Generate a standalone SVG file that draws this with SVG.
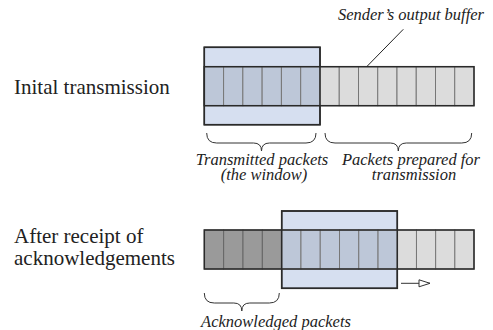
<svg xmlns="http://www.w3.org/2000/svg" width="493" height="330" viewBox="0 0 493 330">
<defs>
<style>
text{font-family:'Liberation Serif','Times New Roman','DejaVu Serif',serif}
.lbl{font-size:21px;fill:#222}
.it{font-size:16.5px;font-style:italic;fill:#222;text-anchor:middle}
.win{fill:#d6dff0;stroke:#2a2a2a;stroke-width:1.5}
.winc{fill:#bdc7d8;stroke:#777;stroke-width:1}
.pend{fill:#dcdcdc;stroke:#777;stroke-width:1}
.ack{fill:#9a9a9a;stroke:#666;stroke-width:1}
.strip{fill:none;stroke:#2a2a2a;stroke-width:1.5}
.br{fill:none;stroke:#333;stroke-width:1}
</style>
<marker id="arr" markerWidth="14" markerHeight="10" refX="12" refY="5" orient="auto" markerUnits="userSpaceOnUse">
<path d="M1,1.5 L12,5 L1,8.5 Z" fill="#fff" stroke="#333" stroke-width="1"/>
</marker>
</defs>

<g id="label-initial"><text class="lbl" x="14" y="94">Inital transmission</text></g>
<g id="label-after"><text class="lbl" x="14" y="243">After receipt of</text><text class="lbl" x="14" y="265">acknowledgements</text></g>

<g id="row1">
<rect class="win" x="204.3" y="47.3" width="115.7" height="77.4"/>
<g class="winc">
<rect x="204.3" y="66.7" width="19.28" height="39"/>
<rect x="223.58" y="66.7" width="19.28" height="39"/>
<rect x="242.86" y="66.7" width="19.28" height="39"/>
<rect x="262.14" y="66.7" width="19.28" height="39"/>
<rect x="281.42" y="66.7" width="19.28" height="39"/>
<rect x="300.7" y="66.7" width="19.3" height="39"/>
</g>
<g class="pend">
<rect x="320" y="66.7" width="19.25" height="39"/>
<rect x="339.25" y="66.7" width="19.25" height="39"/>
<rect x="358.5" y="66.7" width="19.25" height="39"/>
<rect x="377.75" y="66.7" width="19.25" height="39"/>
<rect x="397" y="66.7" width="19.25" height="39"/>
<rect x="416.25" y="66.7" width="19.25" height="39"/>
<rect x="435.5" y="66.7" width="19.25" height="39"/>
<rect x="454.75" y="66.7" width="19.25" height="39"/>
</g>
<rect class="strip" x="204.3" y="66.7" width="269.7" height="39"/>
<rect x="204.3" y="47.3" width="115.7" height="77.4" fill="none" stroke="#2a2a2a" stroke-width="1.5"/>
</g>

<g id="row2">
<g class="ack">
<rect x="204.3" y="230" width="19.35" height="39"/>
<rect x="223.65" y="230" width="19.35" height="39"/>
<rect x="243" y="230" width="19.35" height="39"/>
<rect x="262.35" y="230" width="19.35" height="39"/>
</g>
<rect class="win" x="281.7" y="211" width="115.6" height="77.3"/>
<g class="winc">
<rect x="281.7" y="230" width="19.27" height="39"/>
<rect x="300.97" y="230" width="19.27" height="39"/>
<rect x="320.24" y="230" width="19.27" height="39"/>
<rect x="339.51" y="230" width="19.27" height="39"/>
<rect x="358.78" y="230" width="19.27" height="39"/>
<rect x="378.05" y="230" width="19.25" height="39"/>
</g>
<g class="pend">
<rect x="397.3" y="230" width="19.18" height="39"/>
<rect x="416.48" y="230" width="19.18" height="39"/>
<rect x="435.66" y="230" width="19.18" height="39"/>
<rect x="454.84" y="230" width="19.16" height="39"/>
</g>
<rect class="strip" x="204.3" y="230" width="269.7" height="39"/>
<rect x="281.7" y="211" width="115.6" height="77.3" fill="none" stroke="#2a2a2a" stroke-width="1.5"/>
</g>

<g id="connectors">
<line x1="366.7" y1="66.7" x2="403.3" y2="29.3" stroke="#222" stroke-width="1"/>
<path class="br" d="M206.7,133 q0,10 10,10 H253.5 q8,0 8,8 q0,-8 8,-8 H306 q10,0 10,-10"/>
<path class="br" d="M325,133 q0,10 10,10 H390.3 q8,0 8,8 q0,-8 8,-8 H461.7 q10,0 10,-10"/>
<path class="br" d="M204.3,293 q0,10 10,10 H233.8 q8,0 8,8 q0,-8 8,-8 H269.3 q10,0 10,-10"/>
<line x1="401" y1="283.3" x2="430" y2="283.3" stroke="#333" stroke-width="1" marker-end="url(#arr)"/>
</g>

<g id="captions">
<text class="it" x="411" y="20">Sender’s output buffer</text>
<text class="it" x="262" y="165">Transmitted packets</text>
<text class="it" x="264" y="180">(the window)</text>
<text class="it" x="411" y="165">Packets prepared for</text>
<text class="it" x="414" y="180">transmission</text>
<text class="it" x="276" y="327">Acknowledged packets</text>
</g>
</svg>
